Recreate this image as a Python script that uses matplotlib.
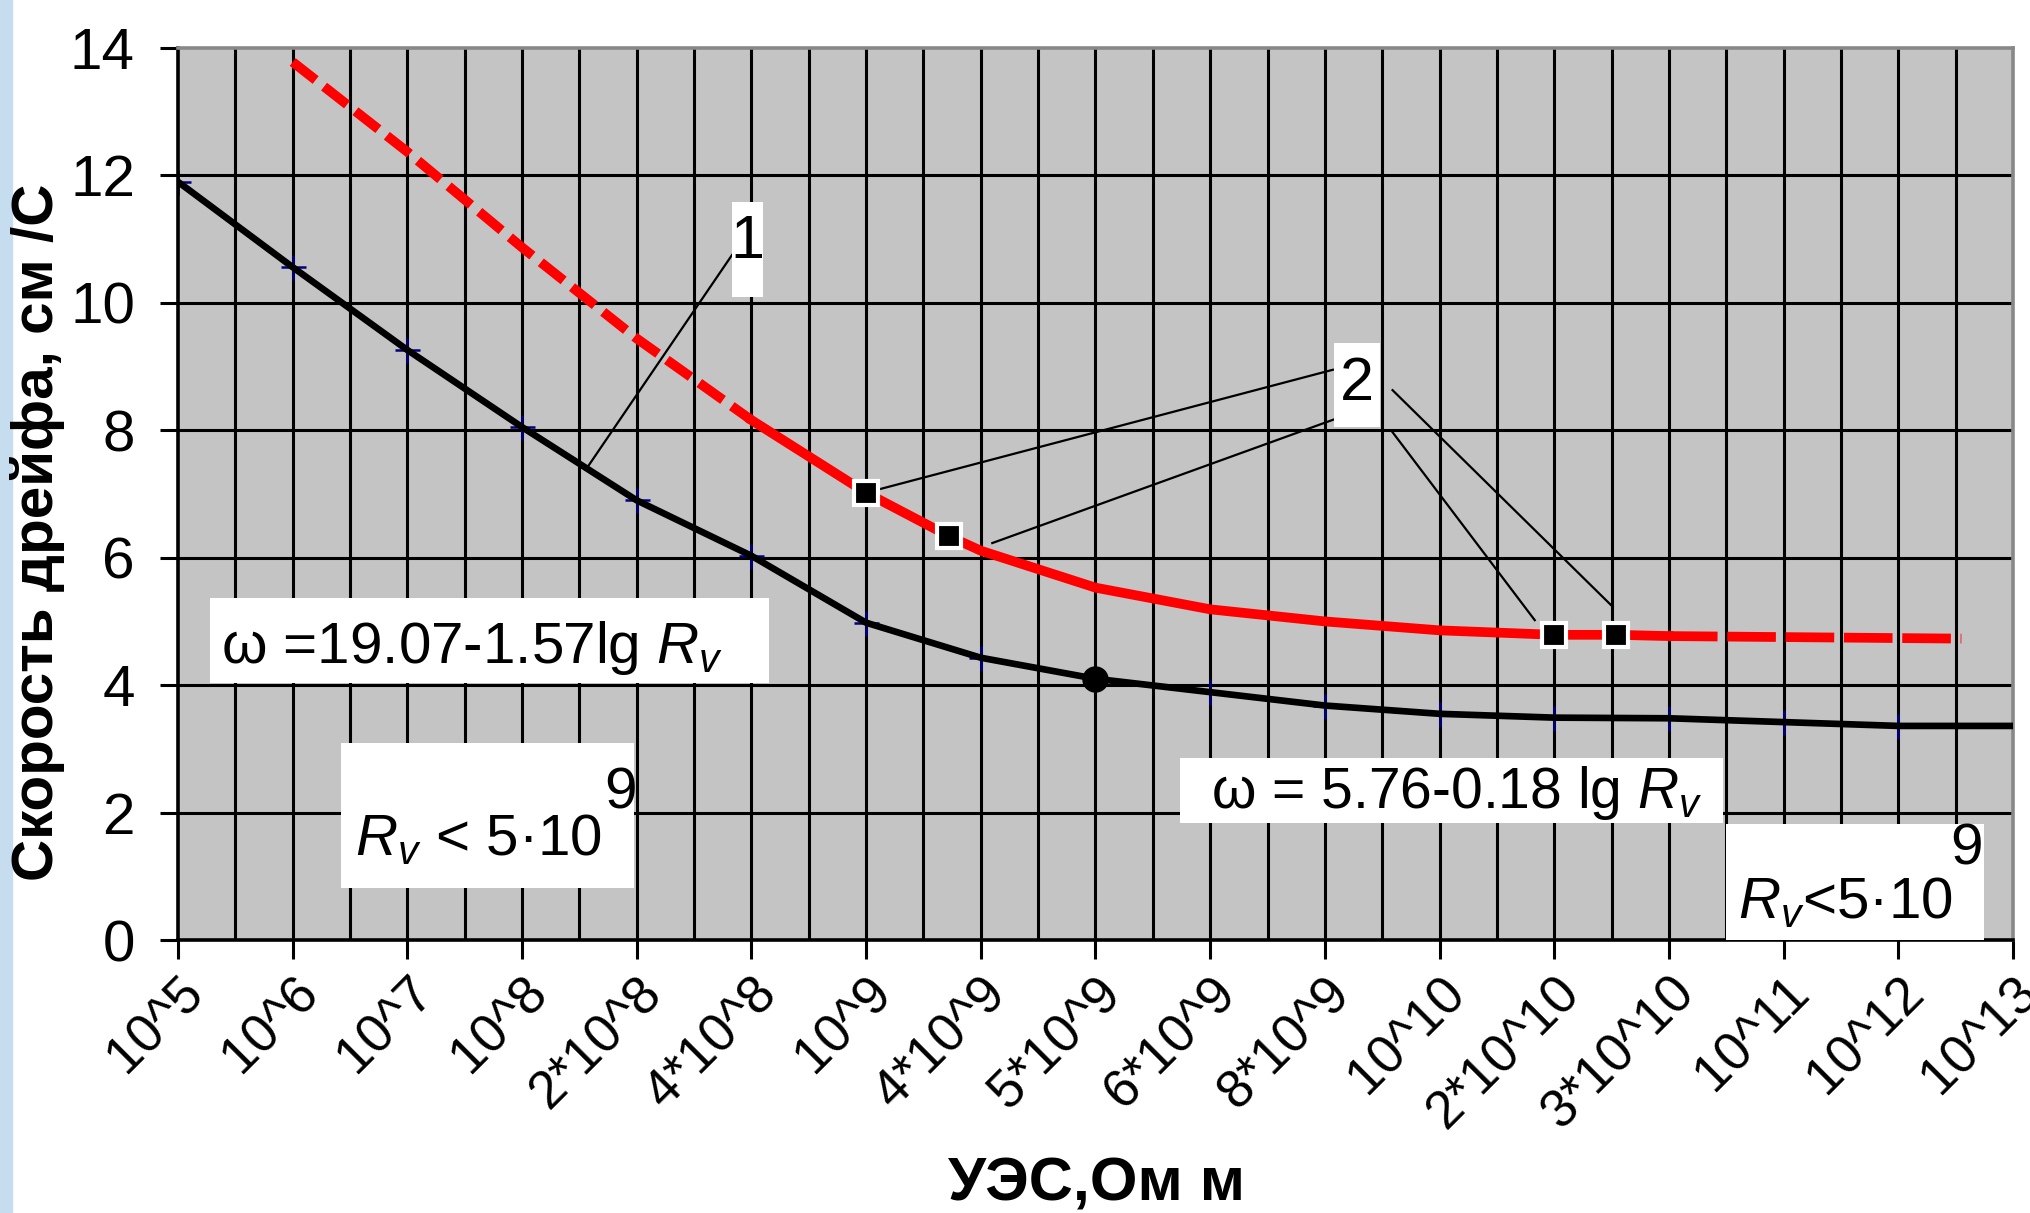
import numpy as np
import matplotlib.pyplot as plt
from matplotlib.patches import Rectangle
from matplotlib.transforms import ScaledTranslation

plt.rcParams['font.family'] = ['Liberation Sans Narrow', 'Liberation Sans', 'DejaVu Sans']
plt.rcParams['mathtext.fontset'] = 'custom'
plt.rcParams['mathtext.rm'] = 'Liberation Sans'
plt.rcParams['mathtext.it'] = 'Liberation Sans:italic'

# x categories (resistivity, Ohm*m)
categories = ['10^5', '10^6', '10^7', '10^8', '2*10^8', '4*10^8', '10^9', '4*10^9',
              '5*10^9', '6*10^9', '8*10^9', '10^10', '2*10^10', '3*10^10',
              '10^11', '10^12', '10^13']

# curve 1 (black), one value per category
black_y = [11.9, 10.56, 9.26, 8.05, 6.9, 6.03, 4.98, 4.43, 4.10, 3.89, 3.68,
           3.55, 3.49, 3.48, 3.42, 3.36, 3.36]

# curve 2 (red), positions in category units
red_x = [1, 2, 3, 4, 5, 6, 6.72, 7, 8, 9, 10, 11, 12, 12.54, 13, 15.55]
red_y = [13.78, 12.37, 10.87, 9.44, 8.16, 7.02, 6.34, 6.11, 5.53, 5.19, 5.0,
         4.86, 4.79, 4.79, 4.77, 4.73]

# measured points on curve 2
mark_x = [6, 6.72, 12, 12.54]
mark_y = [7.02, 6.34, 4.79, 4.79]

# boundary point on curve 1
dot_ix = 8

yticks = [0, 2, 4, 6, 8, 10, 12, 14]

xi = np.arange(len(categories))

fig = plt.figure(figsize=(20.31, 12.13), dpi=100)
fig.patches.append(Rectangle((0, 0), 0.006, 1, transform=fig.transFigure,
                             color='#c6dcef', zorder=0))
ax = fig.add_axes([178 / 2031, 1 - 940 / 1213, (2013 - 178) / 2031, (940 - 48) / 1213])
ax.set_facecolor('#c4c4c4')

# grid: vertical every half category, horizontal every 2
for gx in np.arange(0.5, len(categories) - 1, 0.5):
    ax.axvline(gx, color='black', lw=2.2, zorder=1)
for gy in yticks[1:-1]:
    ax.axhline(gy, color='black', lw=2.2, zorder=1)

# curve 1
ax.plot(xi, black_y, '+', color='#000080', ms=18, mew=1.8, zorder=2)
ax.plot(xi, black_y, color='black', lw=4.8, solid_joinstyle='round', zorder=3)
ax.plot(xi[dot_ix], black_y[dot_ix], 'o', color='black', ms=18, zorder=5)

# curve 2: dashed / solid / dashed
ax.plot(red_x[:5], red_y[:5], color='#ff0000', lw=7, dashes=(3, 1.1),
        dash_capstyle='butt', zorder=3)
ax.plot(red_x[4:15], red_y[4:15], color='#ff0000', lw=7, zorder=3)
ax.plot(red_x[14:], red_y[14:], color='#ff0000', lw=7, dashes=(5, 1),
        dash_capstyle='butt', zorder=3)
ax.plot(mark_x, mark_y, 's', color='black', ms=17, mec='white', mew=3, zorder=6)

# leader lines for labels 1 and 2
leaders = [((4.83, 10.75), (3.57, 7.42)),
           ((10.07, 8.95), (6.0, 7.02)),
           ((10.14, 8.21), (7.10, 6.23)),
           ((10.59, 8.63), (12.51, 5.23)),
           ((10.59, 7.97), (11.83, 5.02))]
for (x0, y0), (x1, y1) in leaders:
    ax.plot([x0, x1], [y0, y1], color='black', lw=1.6, zorder=4)

txt = dict(color='black', zorder=8)


def white_box(x0, y0, x1, y1):
    ax.add_patch(Rectangle((x0, y0), x1 - x0, y1 - y0, facecolor='white',
                           edgecolor='none', zorder=7))


white_box(4.83, 10.09, 5.10, 11.58)
ax.text(4.965, 10.7, '1', ha='center', va='baseline', fontsize=44, **txt)
white_box(10.08, 8.05, 10.48, 9.37)
ax.text(10.28, 8.48, '2', ha='center', va='baseline', fontsize=44, **txt)

white_box(0.28, 4.03, 5.15, 5.37)
ax.text(0.375, 4.35, r'ω =19.07-1.57lg $R_v$', ha='left', va='baseline',
        fontsize=42, **txt)

white_box(1.42, 0.81, 3.98, 3.09)
ax.text(1.54, 1.33, r'$R_v$ < 5·10', ha='left', va='baseline', fontsize=42, **txt)
ax.text(3.72, 2.07, '9', ha='left', va='baseline', fontsize=42, **txt)

white_box(8.74, 1.84, 13.47, 2.86)
ax.text(9.01, 2.07, r'ω = 5.76-0.18 lg $R_v$', ha='left', va='baseline',
        fontsize=41, **txt)

white_box(13.5, 0.0, 15.75, 1.82)
ax.text(13.6, 0.35, r'$R_v$<5·10', ha='left', va='baseline', fontsize=42, **txt)
ax.text(15.45, 1.18, '9', ha='left', va='baseline', fontsize=42, **txt)

ax.set_xlim(0, len(categories) - 1)
ax.set_ylim(0, 14)
ax.set_xticks(xi)
ax.set_xticklabels(categories, rotation=45, ha='right', va='top',
                   rotation_mode='anchor', fontsize=38)
shift = ScaledTranslation(10 / 100, 0, fig.dpi_scale_trans)
for lab in ax.get_xticklabels():
    lab.set_transform(lab.get_transform() + shift)
ax.set_yticks(yticks)
ax.set_yticklabels([str(v) for v in yticks], fontsize=42)
ax.tick_params(axis='x', length=14, width=2.2, pad=6)
ax.tick_params(axis='y', length=13, width=2.2, pad=18)

for s in ['left', 'bottom']:
    ax.spines[s].set_color('black')
    ax.spines[s].set_linewidth(2.6)
for s in ['top', 'right']:
    ax.spines[s].set_color('#888888')
    ax.spines[s].set_linewidth(2.6)

fig.text(38 / 2031, 1 - 532 / 1213, 'Скорость дрейфа, см /С', rotation=90,
         ha='center', va='center', fontsize=42, fontweight='bold')
fig.text(1097 / 2031, 1 - 1200 / 1213, 'УЭС,Ом м', ha='center', va='baseline',
         fontsize=44, fontweight='bold')

fig.savefig('out.png', dpi=100)
